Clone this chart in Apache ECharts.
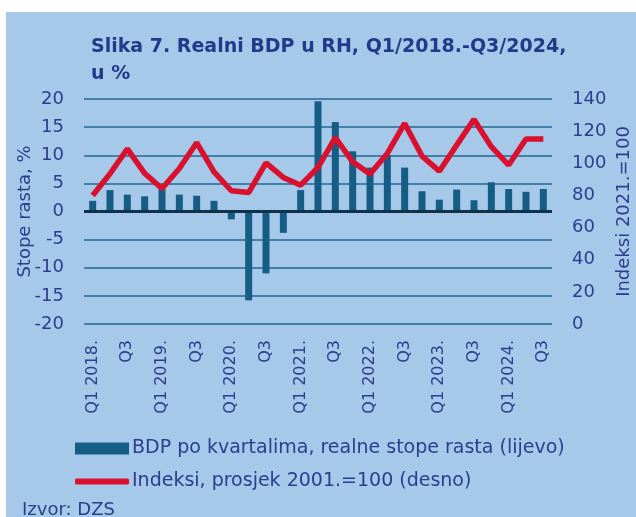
<!DOCTYPE html>
<html>
<head>
<meta charset="utf-8">
<script src="https://cdn.jsdelivr.net/npm/echarts@6/dist/echarts.min.js"></script>
<style>
html,body{margin:0;padding:0;background:#ffffff;}
#panel{position:absolute;left:6px;top:12px;width:630px;height:505px;background:#a6c9ea;}
#chart{position:absolute;left:0;top:0;width:636px;height:517px;}
</style>
</head>
<body>
<div id="panel"></div>
<div id="chart"></div>
<script>
const categories = [
  'Q1 2018.','Q2','Q3','Q4',
  'Q1 2019.','Q2','Q3','Q4',
  'Q1 2020.','Q2','Q3','Q4',
  'Q1 2021.','Q2','Q3','Q4',
  'Q1 2022.','Q2','Q3','Q4',
  'Q1 2023.','Q2','Q3','Q4',
  'Q1 2024.','Q2','Q3'
];
const gdpGrowth = [
  1.9, 3.8, 3.0, 2.7,
  4.0, 3.0, 2.8, 1.9,
  -1.4, -15.8, -11.0, -3.8,
  3.8, 19.6, 15.9, 10.7,
  7.8, 10.0, 7.8, 3.6,
  2.1, 3.9, 2.0, 5.2,
  4.0, 3.5, 4.0
];
const gdpIndex = [
  80.0, 93.5, 109.0, 93.7,
  84.3, 96.8, 112.8, 94.7,
  82.9, 81.8, 100.3, 91.2,
  86.4, 97.4, 116.0, 100.9,
  93.3, 106.1, 124.8, 104.5,
  95.1, 111.3, 127.3, 110.3,
  98.9, 115.1, 115.1
];
const leftTicks = { min: -20, max: 20, interval: 5 };
const rightTicks = { min: 0, max: 140, interval: 20 };
const seriesNames = ['BDP po kvartalima, realne stope rasta (lijevo)', 'Indeksi, prosjek 2001.=100 (desno)'];

const FONT = 'DejaVu Sans';
const TXT = '#2b3d8c';
const chart = echarts.init(document.getElementById('chart'), null, {renderer:'canvas'});
chart.setOption({
  backgroundColor: 'transparent',
  animation: false,
  textStyle: { fontFamily: FONT },
  title: {
    text: 'Slika 7. Realni BDP u RH, Q1/2018.-Q3/2024,\nu %',
    left: 86, top: 29,
    textStyle: { fontFamily: FONT, fontWeight: 'bold', fontSize: 19, color: '#23398a', lineHeight: 27 }
  },
  legend: [
    { data: [seriesNames[0]], left: 70, top: 434, itemWidth: 54, itemHeight: 12, icon: 'rect',
      textStyle: { fontFamily: FONT, fontSize: 19, color: TXT, padding: [0,0,0,-2] } },
    { data: [seriesNames[1]], left: 70, top: 467, itemWidth: 54, itemHeight: 6, icon: 'roundRect',
      textStyle: { fontFamily: FONT, fontSize: 19, color: TXT, padding: [0,0,0,-2] } }
  ],
  graphic: [
    { type: 'text', left: 22, top: 501, style: { text: 'Izvor: DZS', font: '18px "DejaVu Sans"', fill: TXT } }
  ],
  grid: { left: 84, right: 84, top: 99, bottom: 193, containLabel: false, outerBoundsMode: 'none' },
  xAxis: {
    type: 'category', data: categories, position: 'bottom',
    axisLine: { show: false, onZero: false }, axisTick: { show: false },
    axisLabel: { rotate: 90, interval: 1, margin: 16, fontFamily: FONT, fontSize: 16, color: TXT }
  },
  yAxis: [
    { type: 'value', min: leftTicks.min, max: leftTicks.max, interval: leftTicks.interval,
      name: 'Stope rasta, %', nameLocation: 'middle', nameGap: 50, nameMoveOverlap: false,
      nameTextStyle: { fontFamily: FONT, fontSize: 18, color: TXT },
      axisLine: { show: false }, axisTick: { show: false },
      axisLabel: { margin: 20, fontFamily: FONT, fontSize: 18, color: TXT },
      splitLine: { lineStyle: { color: '#22668f', width: 1.5 } } },
    { type: 'value', min: rightTicks.min, max: rightTicks.max, interval: rightTicks.interval,
      name: 'Indeksi 2021.=100', nameLocation: 'middle', nameGap: 63, nameMoveOverlap: false,
      nameTextStyle: { fontFamily: FONT, fontSize: 18, color: TXT },
      axisLine: { show: false }, axisTick: { show: false },
      axisLabel: { margin: 20, fontFamily: FONT, fontSize: 18, color: TXT },
      splitLine: { show: false } }
  ],
  series: [
    { name: seriesNames[0], type: 'bar', yAxisIndex: 0, data: gdpGrowth, barWidth: 7,
      itemStyle: { color: '#155d84' },
      markLine: { silent: true, symbol: 'none', label: { show: false },
        lineStyle: { color: '#0f3248', width: 3, type: 'solid' }, data: [{ yAxis: 0 }] } },
    { name: seriesNames[1], type: 'line', yAxisIndex: 1, data: gdpIndex, symbol: 'none',
      lineStyle: { color: '#d9112e', width: 5.5 }, itemStyle: { color: '#d9112e' }, z: 5 }
  ]
});
</script>
</body>
</html>
